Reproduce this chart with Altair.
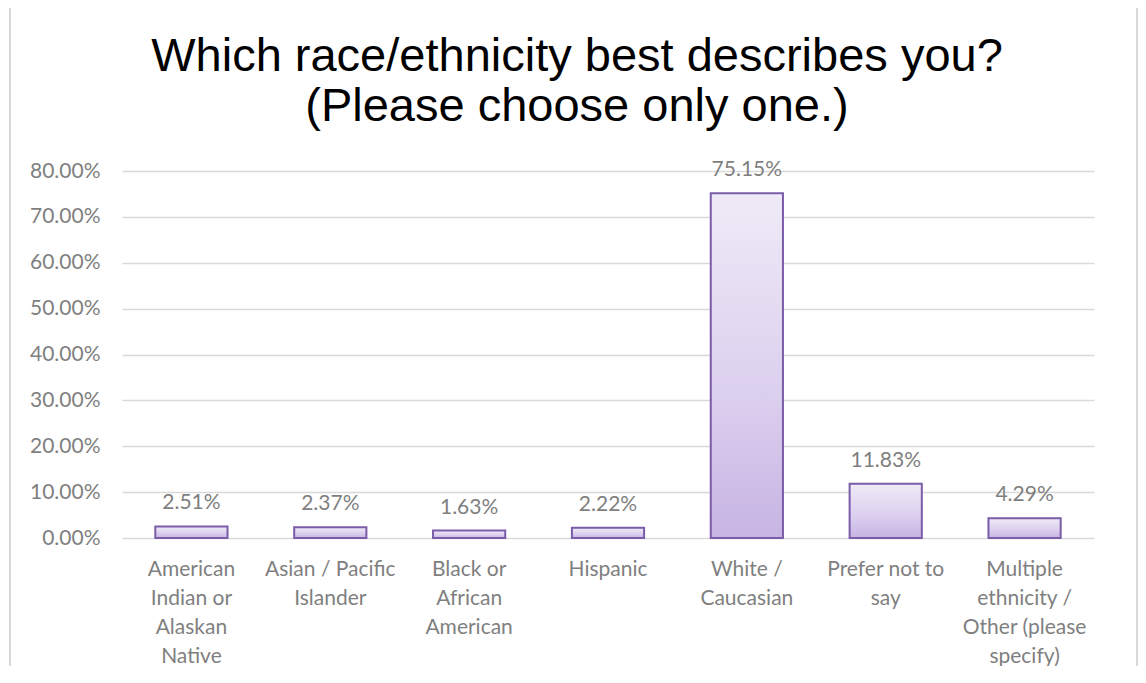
import altair as alt
import pandas as pd

# ---- data ----
categories = [
    "American\nIndian or\nAlaskan\nNative",
    "Asian / Pacific\nIslander",
    "Black or\nAfrican\nAmerican",
    "Hispanic",
    "White /\nCaucasian",
    "Prefer not to\nsay",
    "Multiple\nethnicity /\nOther (please\nspecify)",
]
shares = [0.0251, 0.0237, 0.0163, 0.0222, 0.7515, 0.1183, 0.0429]
y_ticks = [0.0, 0.1, 0.2, 0.3, 0.4, 0.5, 0.6, 0.7, 0.8]
title_lines = ["Which race/ethnicity best describes you?", "(Please choose only one.)"]

df = pd.DataFrame({"category": categories, "share": shares})

PLOT_W, PLOT_H = 972, 367
GRAY_TXT = "#7f7f7f"
GRID = "#d9d9d9"
FONT = "Lato"

x_enc = alt.X(
    "category:N",
    sort=None,
    scale=alt.Scale(paddingInner=0.48, paddingOuter=0.24),
    axis=alt.Axis(
        title=None,
        labelAngle=0,
        labelExpr="split(datum.label, '\\n')",
        labelFont=FONT,
        labelFontSize=21,
        labelColor=GRAY_TXT,
        labelLineHeight=29,
        labelPadding=20,
        labelBaseline="top",
        labelLimit=200,
        ticks=False,
        domain=False,
        grid=False,
    ),
)
y_enc = alt.Y(
    "share:Q",
    scale=alt.Scale(domain=[0, 0.8], nice=False, zero=True),
    axis=alt.Axis(
        title=None,
        values=y_ticks,
        format=".2%",
        labelFont=FONT,
        labelFontSize=21,
        labelColor=GRAY_TXT,
        labelPadding=22,
        grid=True,
        gridColor=GRID,
        gridWidth=1.5,
        domain=False,
        ticks=False,
    ),
)

fill = alt.Gradient(
    gradient="linear",
    stops=[
        alt.GradientStop(color="#efeaf7", offset=0),
        alt.GradientStop(color="#ddd1ef", offset=0.55),
        alt.GradientStop(color="#c7b4e3", offset=1),
    ],
    x1=0, x2=0, y1=0, y2=1,
)

bars = alt.Chart(df).mark_bar(fill=fill, stroke="#7a5ca8", strokeWidth=2).encode(
    x=x_enc, y=y_enc
)

labels = alt.Chart(df).mark_text(
    baseline="alphabetic", dy=-17, font=FONT, fontSize=21, color=GRAY_TXT
).encode(x=x_enc, y=y_enc, text=alt.Text("share:Q", format=".2%"))

one = pd.DataFrame({"k": [0]})
frame_top = alt.Chart(one).mark_rule(color=GRID, strokeWidth=2).encode(
    x=alt.value(-112), x2=alt.value(1015), y=alt.value(-164)
)
frame_left = alt.Chart(one).mark_rule(color=GRID, strokeWidth=2).encode(
    x=alt.value(-112), y=alt.value(-164), y2=alt.value(520)
)
frame_right = alt.Chart(one).mark_rule(color=GRID, strokeWidth=2).encode(
    x=alt.value(1015), y=alt.value(-164), y2=alt.value(520)
)

chart = (
    alt.layer(frame_top, frame_left, frame_right, bars, labels)
    .properties(
        width=PLOT_W,
        height=PLOT_H,
        autosize=alt.AutoSizeParams(type="none"),
        padding={"left": 114, "top": 163, "right": 44, "bottom": 128},
        title=alt.TitleParams(
            title_lines,
            font="Liberation Sans",
            fontSize=47,
            fontWeight="normal",
            color="#000000",
            anchor="middle",
            dx=-31,
            lineHeight=50,
            offset=-125,
        ),
    )
    .configure_view(stroke=None)
)

chart.save("out.html", embed_options={"renderer": "svg", "actions": False})
